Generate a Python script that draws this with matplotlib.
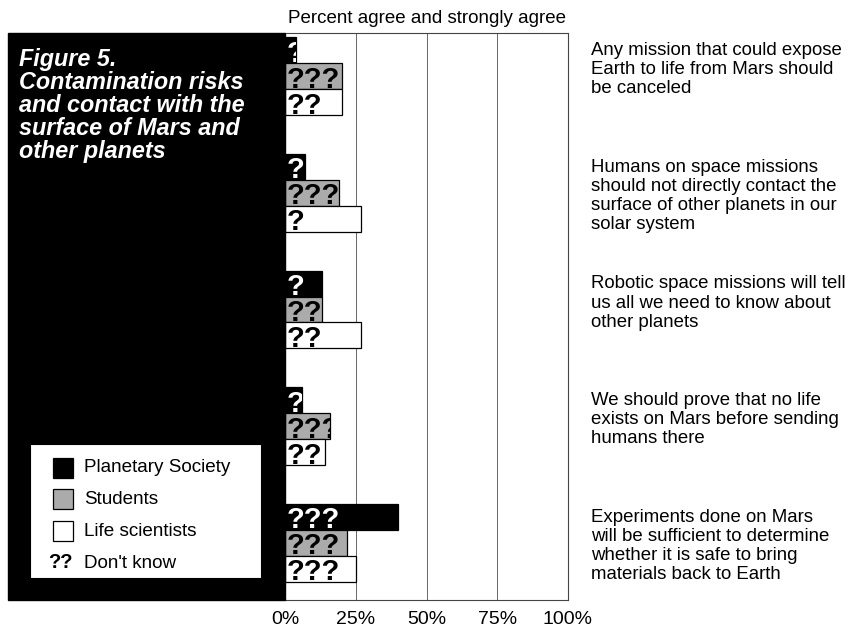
import matplotlib
matplotlib.use("Agg")
from matplotlib import pyplot as plt
from matplotlib.patches import Rectangle
from matplotlib.transforms import Bbox, TransformedBbox
import numpy as np

plt.rcParams['font.family'] = ['Liberation Sans', 'DejaVu Sans']

statements = [
    "Any mission that could expose\nEarth to life from Mars should\nbe canceled",
    "Humans on space missions\nshould not directly contact the\nsurface of other planets in our\nsolar system",
    "Robotic space missions will tell\nus all we need to know about\nother planets",
    "We should prove that no life\nexists on Mars before sending\nhumans there",
    "Experiments done on Mars\nwill be sufficient to determine\nwhether it is safe to bring\nmaterials back to Earth",
]
groups = ["Planetary Society", "Students", "Life scientists"]
planetary = [4, 7, 13, 6, 40]
students = [20, 19, 13, 16, 22]
life_sci = [20, 27, 27, 14, 25]
# don't know markers shown inside each bar
dk_planetary = ["?", "??", "?", "?", "???"]
dk_students = ["???", "???", "??", "???", "???"]
dk_life_sci = ["??", "?", "??", "??", "???"]
ticks = [0, 25, 50, 75, 100]

W, H = 849, 630


def px(x, y):
    return x / W, 1 - y / H


fig = plt.figure(figsize=(W / 100, H / 100), dpi=100)

# black title panel on the left
x0, y0 = px(8, 600)
fig.patches.append(Rectangle((x0, y0), (285 - 8) / W, (600 - 33) / H,
                             transform=fig.transFigure, facecolor='black',
                             edgecolor='black', zorder=0))

l, b = px(285, 600)
r, t = px(568, 33)
ax = fig.add_axes([l, b, r - l, t - b])

y = np.arange(len(statements))
h = 0.222
series = [
    (planetary, dk_planetary, -h, 'black', 'white'),
    (students, dk_students, 0, '#ababab', 'black'),
    (life_sci, dk_life_sci, h, 'white', 'black'),
]
for vals, marks, off, fc, tc in series:
    bars = ax.barh(y + off, vals, height=h, color=fc, edgecolor='black',
                   linewidth=0.9, zorder=3)
    for bar, m in zip(bars, marks):
        txt = ax.text(0.6, bar.get_y() + h / 2 + 0.03, m, color=tc,
                      fontsize=21, fontweight='bold', va='center', ha='left',
                      zorder=4, clip_on=True)
        # agg only honours clip boxes for text, so clip to the bar's box
        box = Bbox.from_bounds(bar.get_x(), bar.get_y(), bar.get_width(),
                               bar.get_height())
        txt.set_clip_box(TransformedBbox(box, ax.transData))

ax.set_xlim(0, 100)
ax.set_ylim(4.49, -0.37)
ax.set_xticks(ticks)
ax.set_xticklabels([f"{v}%" for v in ticks], fontsize=14)
ax.set_yticks([])
ax.tick_params(axis='x', length=0, pad=8)
ax.xaxis.grid(True, color='#666666', linewidth=0.7, zorder=1)
for s in ax.spines.values():
    s.set_color('#444444')
    s.set_linewidth(0.8)
ax.spines['left'].set_visible(False)
ax.set_title("Percent agree and strongly agree", fontsize=13.5, pad=7)

# statements to the right
for yi, s in zip(y, statements):
    ax.text(108, yi - h * 1.5 + 0.04, s, fontsize=13.4, va='top', ha='left',
            linespacing=1.17, clip_on=False)

# figure title in the panel
tx, ty = px(19, 48)
fig.text(tx, ty, "Figure 5.\nContamination risks\nand contact with the\nsurface of Mars and\nother planets",
         color='white', fontsize=16.8, fontweight='bold', fontstyle='italic',
         va='top', ha='left', linespacing=1.0)

# legend box
lx, ly = px(30, 578)
fig.patches.append(Rectangle((lx, ly), (261 - 30) / W, (578 - 444) / H,
                             transform=fig.transFigure, facecolor='white',
                             edgecolor='black', linewidth=0.8, zorder=1))
rows = [468, 499, 531]
for yy, name, fc in zip(rows, groups, ['black', '#ababab', 'white']):
    sx, sy = px(53, yy + 10)
    fig.patches.append(Rectangle((sx, sy), 20 / W, 20 / H,
                                 transform=fig.transFigure, facecolor=fc,
                                 edgecolor='black', linewidth=0.9, zorder=2))
    fx, fy = px(84, yy)
    fig.text(fx, fy, name, fontsize=13.6, va='center', ha='left')
qx, qy = px(48, 563)
fig.text(qx, qy, "??", fontsize=14.5, fontweight='bold', va='center', ha='left')
dx, dy = px(84, 563)
fig.text(dx, dy, "Don't know", fontsize=13.6, va='center', ha='left')

fig.savefig("out.png", dpi=100)
